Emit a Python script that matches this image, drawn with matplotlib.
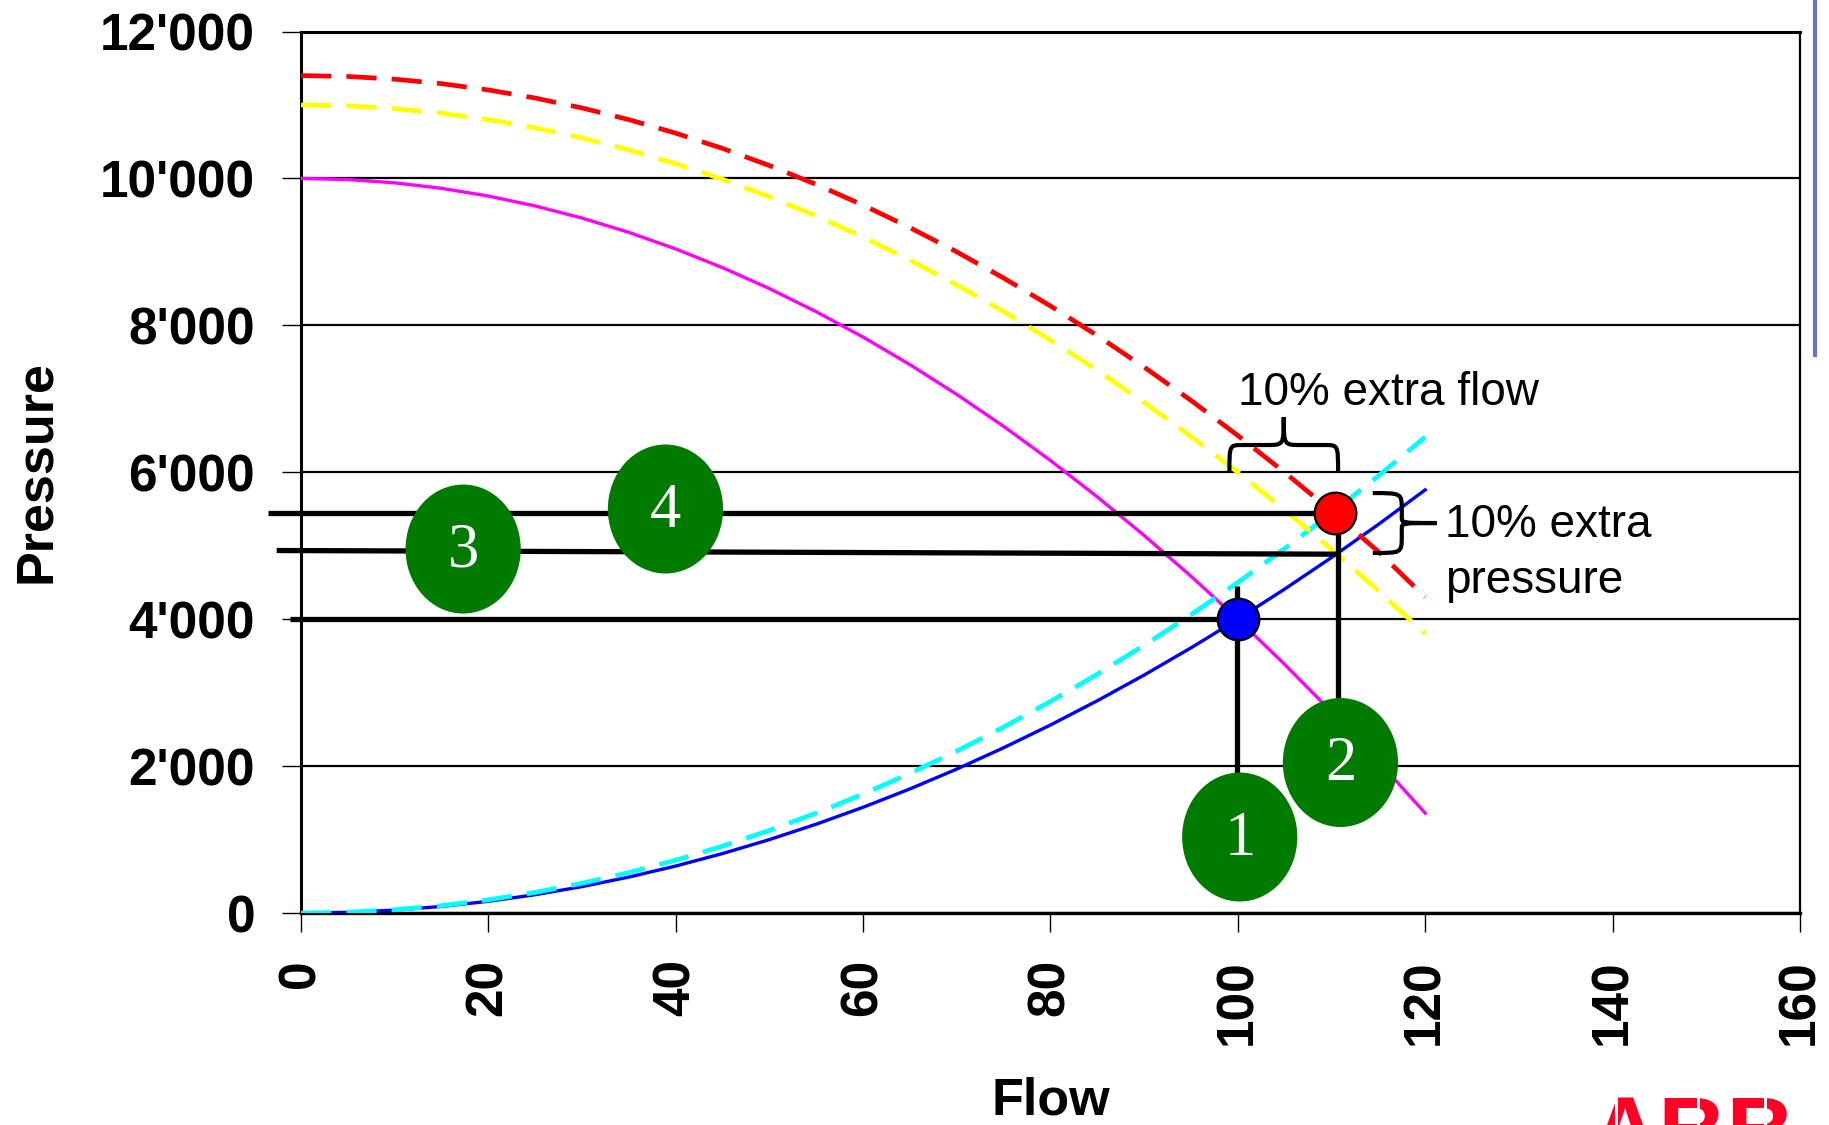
import matplotlib
matplotlib.use("Agg")
import matplotlib.pyplot as plt
from matplotlib.patches import Ellipse, PathPatch, Rectangle
from matplotlib.path import Path
from matplotlib.lines import Line2D

plt.rcParams['font.family'] = ['Liberation Sans', 'DejaVu Sans']

# ---------------- data ----------------
flow = [0, 5, 10, 15, 20, 25, 30, 35, 40, 45, 50, 55, 60, 65, 70, 75, 80, 85, 90, 95, 100, 105, 110, 115, 120]
pump_curve = [10000, 9985, 9940, 9865, 9760, 9625, 9460, 9265, 9040, 8785, 8500, 8185, 7840, 7465, 7060,
              6625, 6160, 5665, 5140, 4585, 4000, 3385, 2740, 2065, 1360]
pump_plus_yellow = [11000, 10988, 10950, 10888, 10800, 10688, 10550, 10388, 10200, 9988, 9750, 9488, 9200,
                    8888, 8550, 8188, 7800, 7388, 6950, 6488, 6000, 5488, 4950, 4388, 3800]
pump_plus_red = [11400, 11388, 11351, 11290, 11204, 11094, 10959, 10800, 10616, 10408, 10175, 9918, 9636,
                 9330, 9000, 8644, 8264, 7860, 7431, 6978, 6500, 5998, 5471, 4920, 4300]
system_curve = [0, 10, 40, 90, 160, 250, 360, 490, 640, 810, 1000, 1210, 1440, 1690, 1960, 2250, 2560,
                2890, 3240, 3610, 4000, 4410, 4840, 5290, 5760]
system_plus = [0, 11, 45, 101, 180, 281, 405, 551, 720, 911, 1125, 1361, 1620, 1901, 2205, 2531, 2880,
               3251, 3645, 4061, 4500, 4961, 5445, 5951, 6480]

duty_point = (100, 4000)          # blue point
design_point = (110.4, 5440)      # red point

xticks = [0, 20, 40, 60, 80, 100, 120, 140, 160]
xtick_labels = ['0', '20', '40', '60', '80', '100', '120', '140', '160']
yticks = [0, 2000, 4000, 6000, 8000, 10000, 12000]
ytick_labels = ['0', "2'000", "4'000", "6'000", "8'000", "10'000", "12'000"]

# numbered markers: (label, x, y)
markers = [('1', 100.2, 1035), ('2', 110.95, 2049), ('3', 17.3, 4955), ('4', 38.9, 5500)]

# ---------------- figure ----------------
fig = plt.figure(figsize=(18.29, 11.25), dpi=100)
ax = fig.add_axes([0.1646, 0.1884, 0.8195, 0.7836])
ax.set_xlim(0, 160)
ax.set_ylim(0, 12000)

ax.set_xticks(xticks)
ax.set_xticklabels(xtick_labels, rotation=90, fontsize=37, fontweight='bold')
ax.set_yticks(yticks)
ax.set_yticklabels(ytick_labels, fontsize=37, fontweight='bold')
ax.tick_params(axis='both', direction='out', length=13.5, width=1.0, pad=19.5, color='black')
ax.grid(axis='y', color='black', lw=1.6, zorder=0)
ax.set_axisbelow(True)
for side, lw in [('top', 2.2), ('left', 2.2), ('right', 1.6), ('bottom', 2.4)]:
    ax.spines[side].set_linewidth(lw)
    ax.spines[side].set_color('black')

# curves
dash = (0, (6.4, 3.2))
ax.plot(flow, system_curve, color='#0000ff', lw=2.4, zorder=3)
ax.plot(flow, pump_curve, color='#ff00ff', lw=2.4, zorder=3)
ax.plot(flow, system_plus, color='#00ffff', lw=3.4, ls=dash, zorder=4)
ax.plot(flow, pump_plus_yellow, color='#ffff00', lw=3.4, ls=dash, zorder=4)
ax.plot(flow, pump_plus_red, color='#ff0000', lw=3.4, ls=dash, zorder=4)

# black construction lines
blk = dict(color='black', lw=3.8, zorder=5, clip_on=False, solid_capstyle='butt')
ax.plot([-3.5, design_point[0]], [design_point[1], design_point[1]], **blk)
ax.plot([-2.6, 110.6], [4935, 4885], **blk)
ax.plot([-1.2, duty_point[0]], [duty_point[1], duty_point[1]], **blk)
ax.plot([99.95, 99.95], [4450, 1035], **blk)
ax.plot([110.65, 110.65], [design_point[1], 2049], **blk)

# ellipses with numbers
for lab, ex, ey in markers:
    ax.add_patch(Ellipse((ex, ey), 12.3, 1756, facecolor='#007b00', edgecolor='none', zorder=6, clip_on=False))
    ax.text(ex, ey - 40, lab, color='white', fontsize=45, family=['Liberation Serif', 'DejaVu Serif'],
            ha='center', va='center', zorder=7)

# points
ax.plot([duty_point[0]], [duty_point[1]], 'o', ms=30, mfc='#0000ff', mec='black', mew=1.6, zorder=8)
ax.plot([design_point[0]], [design_point[1]], 'o', ms=30, mfc='#ff0000', mec='black', mew=1.6, zorder=8)

# curly braces
x0, x1, xm, yb, yh, yt = 99.1, 110.7, 104.9, 6000, 6371, 6752
verts = [(x0, yb), (x0, yh), (x0, yh), (x0 + 1.4, yh),
         (xm - 1.8, yh),
         (xm, yh), (xm, yh), (xm, yt),
         (xm, yh), (xm, yh), (xm + 1.8, yh),
         (x1 - 1.4, yh),
         (x1, yh), (x1, yh), (x1, yb)]
codes = [Path.MOVETO, Path.CURVE4, Path.CURVE4, Path.CURVE4, Path.LINETO,
         Path.CURVE4, Path.CURVE4, Path.CURVE4,
         Path.CURVE4, Path.CURVE4, Path.CURVE4, Path.LINETO,
         Path.CURVE4, Path.CURVE4, Path.CURVE4]
ax.add_patch(PathPatch(Path(verts, codes), facecolor='none', edgecolor='black', lw=3.0, zorder=6,
                       clip_on=False))

xl, xb, xt, vt, vm, vb = 114.4, 117.5, 121.2, 5717, 5309, 4901
verts = [(xl, vt), (xb, vt), (xb, vt), (xb, vt - 230),
         (xb, vm + 80),
         (xb, vm), (xb, vm), (xt, vm),
         (xb, vm), (xb, vm), (xb, vm - 80),
         (xb, vb + 230),
         (xb, vb), (xb, vb), (xl, vb)]
ax.add_patch(PathPatch(Path(verts, codes), facecolor='none', edgecolor='black', lw=3.0, zorder=6,
                       clip_on=False))

# annotation texts
ax.text(100.0, 6915, '10% extra flow', fontsize=33, ha='left', va='baseline', zorder=7, clip_on=False)
ax.text(122.1, 5118, '10% extra', fontsize=33, ha='left', va='baseline', zorder=7, clip_on=False)
ax.text(122.1, 4356, 'pressure', fontsize=33, ha='left', va='baseline', zorder=7, clip_on=False)

# axis titles
fig.text(0.5746, 0.0213, 'Flow', fontsize=37.5, fontweight='bold', ha='center', va='center')
fig.text(0.0202, 0.5804, 'Pressure', fontsize=37.5, fontweight='bold', ha='center', va='center',
         rotation=90)

# slide decorations: blue vertical rule, ABB logo, footer text at left edge
fig.add_artist(Line2D([1815 / 1829, 1815 / 1829], [1.0, 1 - 355 / 1125], color='#6b6fd0', lw=3.0))
fig.text(1591 / 1829, -0.034, 'ABB', fontsize=68, fontweight='bold', color='#ff0026', ha='left',
         va='baseline')
for sx in [1615, 1697, 1764]:
    fig.add_artist(Rectangle((sx / 1829, 0), 3 / 1829, 40 / 1125, transform=fig.transFigure,
                             facecolor='white', edgecolor='none', zorder=10))
fig.text(3 / 1829, 1 - 985 / 1125, '© ABB Switzerland Ltd - 30', fontsize=15, color='#777777',
         rotation=90, ha='right', va='center')

fig.savefig('out.png', dpi=100)
